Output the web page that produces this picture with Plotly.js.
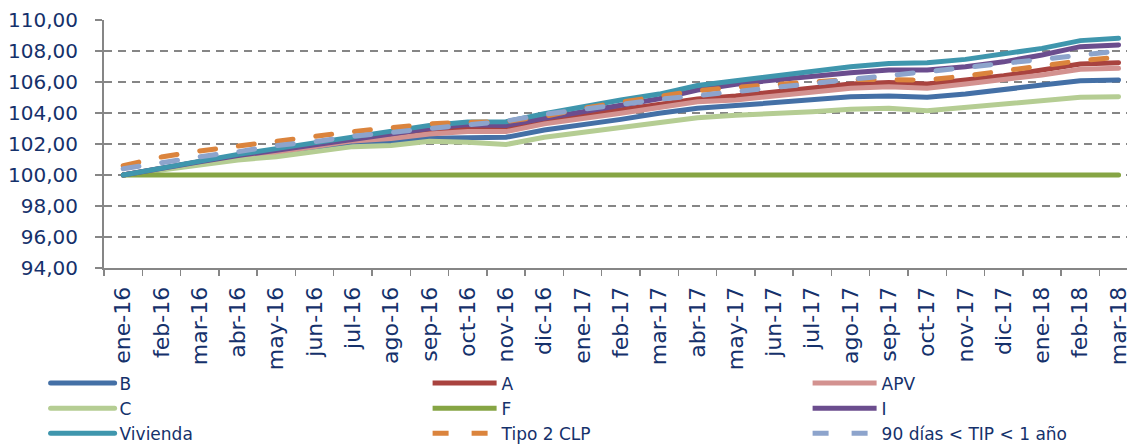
<!DOCTYPE html>
<html><head><meta charset="utf-8">
<script src="https://cdn.plot.ly/plotly-3.0.1.min.js"></script>
<style>
html,body{margin:0;padding:0;background:#fff;}
.scatterlayer .js-line, .legend .js-line { stroke-linecap: round; }
</style></head>
<body><div id="chart" style="width:1127px;height:445px;"></div>
<script>
const categories = ["ene-16","feb-16","mar-16","abr-16","may-16","jun-16","jul-16","ago-16","sep-16","oct-16","nov-16","dic-16",
  "ene-17","feb-17","mar-17","abr-17","may-17","jun-17","jul-17","ago-17","sep-17","oct-17","nov-17","dic-17",
  "ene-18","feb-18","mar-18"];

const seriesB = [100,100.4,100.75,101.1,101.4,101.7,102.0,102.15,102.37,102.4,102.43,102.9,103.23,103.59,103.98,104.3,104.48,104.67,104.88,105.05,105.1,105.01,105.23,105.48,105.8,106.08,106.13];
const seriesA = [100,100.45,100.85,101.22,101.55,101.9,102.3,102.55,102.8,103.0,102.98,103.48,103.85,104.19,104.55,104.9,105.1,105.38,105.66,105.87,105.96,105.87,106.13,106.4,106.77,107.16,107.25];
const seriesAPV = [100,100.4,100.8,101.15,101.45,101.8,102.2,102.35,102.65,102.8,102.8,103.3,103.62,103.98,104.35,104.73,104.84,105.1,105.38,105.6,105.7,105.6,105.87,106.13,106.45,106.82,106.88];
const seriesC = [100,100.3,100.65,100.97,101.18,101.5,101.83,101.9,102.17,102.12,101.97,102.43,102.75,103.07,103.4,103.7,103.85,103.94,104.08,104.24,104.3,104.15,104.37,104.58,104.84,105.01,105.05];
const seriesF = [100,100,100,100,100,100,100,100,100,100,100,100,100,100,100,100,100,100,100,100,100,100,100,100,100,100,100];
const seriesI = [100,100.45,100.85,101.25,101.6,101.98,102.38,102.68,103.0,103.25,103.2,103.66,104.1,104.56,104.92,105.48,105.85,106.13,106.39,106.6,106.77,106.77,106.99,107.3,107.74,108.28,108.39];
const seriesVivienda = [100,100.47,100.9,101.33,101.7,102.08,102.47,102.78,103.2,103.42,103.44,103.95,104.42,104.84,105.22,105.77,106.08,106.39,106.67,106.99,107.2,107.25,107.46,107.79,108.17,108.67,108.82];
const seriesTipo2 = [100.6,101.16,101.55,101.87,102.22,102.5,102.8,103.05,103.3,103.4,103.45,103.78,104.3,104.7,105.08,105.44,105.66,105.87,106.0,106.17,106.17,106.13,106.39,106.73,107.08,107.37,107.6];
const series90 = [100.4,100.8,101.18,101.5,101.9,102.15,102.5,102.75,103.0,103.28,103.48,103.91,104.24,104.56,104.88,105.12,105.36,105.63,105.9,106.17,106.39,106.67,106.93,107.2,107.47,107.74,108.0];

const names = ["B","A","APV","C","F","I","Vivienda","Tipo 2 CLP","90 días < TIP < 1 año"];
const values = [seriesB, seriesA, seriesAPV, seriesC, seriesF, seriesI, seriesVivienda, seriesTipo2, series90];
const colors = ["#4470A6","#A9433F","#D39290","#B5CD93","#86A544","#6B4D8E","#3F96AD","#DB843D","#8DA4CC"];
const dashes = ["solid","solid","solid","solid","solid","solid","solid","16px,23px","16px,23px"];
const legendIds = ["legend","legend2","legend3"];

const traces = names.map((n, k) => ({
  type: "scatter", mode: "lines", name: n,
  x: categories, y: values[k],
  line: {color: colors[k], width: 5, dash: dashes[k]},
  legend: legendIds[k % 3],
  hoverinfo: "skip"
}));

const navy = "#15316B";
const gray = "#868686";
function legendAt(xPx) {
  return {
    orientation: "v", xref: "container", yref: "container",
    x: xPx / 1127, y: 0.1787, xanchor: "left", yanchor: "top",
    itemwidth: 64, font: {size: 17, color: navy},
    traceorder: "normal", bgcolor: "rgba(0,0,0,0)"
  };
}
const layout = {
  width: 1127, height: 445,
  margin: {l: 104, r: 0, t: 20, b: 177, pad: 0, autoexpand: false},
  separators: ",.",
  paper_bgcolor: "#ffffff", plot_bgcolor: "#ffffff",
  showlegend: true,
  font: {family: "DejaVu Sans", color: navy},
  xaxis: {
    type: "category", range: [-0.5, 26.22], tickson: "boundaries",
    ticks: "outside", ticklen: 6, tickwidth: 1.5, tickcolor: gray,
    showline: true, linecolor: gray, linewidth: 2, showgrid: false, zeroline: false,
    tickangle: -90, tickfont: {size: 22, color: navy}, ticklabelstandoff: 8
  },
  yaxis: {
    range: [94, 110], tick0: 94, dtick: 2, tickformat: ".2f",
    ticks: "outside", ticklen: 7, tickwidth: 1.5, tickcolor: gray,
    showline: true, linecolor: gray, linewidth: 2,
    showgrid: true, gridcolor: gray, gridwidth: 2, griddash: "8px,6px", zeroline: false,
    tickfont: {size: 20, color: navy}, ticklabelstandoff: 13
  },
  legend: legendAt(45.6),
  legend2: legendAt(427.6),
  legend3: legendAt(807.6)
};

Plotly.newPlot("chart", traces, layout, {staticPlot: true, displayModeBar: false});
</script></body></html>
